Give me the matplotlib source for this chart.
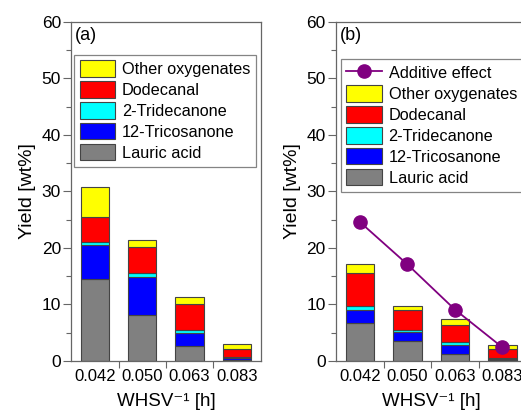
import numpy as np
import matplotlib
matplotlib.use("Agg")
import matplotlib.pyplot as plt

plt.rcParams["font.family"] = ["Liberation Sans", "DejaVu Sans"]

categories = ["0.042", "0.050", "0.063", "0.083"]
components = ["Lauric acid", "12-Tricosanone", "2-Tridecanone", "Dodecanal", "Other oxygenates"]
colors = ["#808080", "#0000ff", "#00ffff", "#ff0000", "#ffff00"]

# panel (a) segment heights, bottom to top
a_lauric = [14.5, 8.2, 2.65, 0.1]
a_tricosanone = [6.0, 6.7, 2.25, 0.5]
a_tridecanone = [0.5, 0.6, 0.6, 0.1]
a_dodecanal = [4.4, 4.7, 4.55, 1.5]
a_other = [5.4, 1.2, 1.35, 0.85]

# panel (b)
b_lauric = [6.75, 3.6, 1.2, 0.2]
b_tricosanone = [2.35, 1.5, 1.7, 0.2]
b_tridecanone = [0.7, 0.4, 0.4, 0.1]
b_dodecanal = [5.7, 3.6, 3.1, 1.6]
b_other = [1.7, 0.7, 0.95, 0.8]
additive = [24.6, 17.1, 9.1, 2.4]

fig = plt.figure(figsize=(5.21, 4.13), dpi=100)
ax_a = fig.add_axes([0.137, 0.126, 0.363, 0.821])
ax_b = fig.add_axes([0.645, 0.126, 0.365, 0.821])

x = np.arange(len(categories))
spine_col = "#666666"


def draw_panel(ax, series, tag):
    bottom = np.zeros(len(categories))
    handles = []
    for vals, name, col in zip(series, components, colors):
        h = ax.bar(x, vals, 0.6, bottom=bottom, color=col, edgecolor="#444444",
                   linewidth=0.8, label=name)
        handles.append(h)
        bottom += np.array(vals)
    ax.set_xlim(-0.5, 3.5)
    ax.set_ylim(0, 60)
    ax.set_yticks(np.arange(0, 61, 10))
    ax.set_yticks(np.arange(5, 60, 10), minor=True)
    ax.set_xticks(x)
    ax.set_xticklabels(categories, fontsize=12)
    ax.set_xticks([0.5, 1.5, 2.5], minor=True)
    ax.tick_params(axis="x", which="major", length=0, pad=6)
    ax.tick_params(axis="x", which="minor", length=5, width=0.8, color=spine_col)
    ax.tick_params(axis="y", which="major", length=6, width=0.8, color=spine_col, labelsize=12.5, pad=1.5)
    ax.tick_params(axis="y", which="minor", length=3.5, width=0.8, color=spine_col)
    for s in ax.spines.values():
        s.set_color(spine_col)
        s.set_linewidth(0.9)
    ax.set_ylabel("Yield [wt%]", fontsize=14, labelpad=4)
    ax.set_xlabel("WHSV\u207b\u00b9 [h]", fontsize=13.5, labelpad=6)
    ax.text(0.02, 0.985, tag, transform=ax.transAxes, fontsize=13, va="top", ha="left")
    return handles


legend_style = dict(loc="upper left", fontsize=11.7, frameon=True, fancybox=False,
                    edgecolor=spine_col, handlelength=2.2, handleheight=1.15,
                    handletextpad=0.4, labelspacing=0.27, borderpad=0.35, borderaxespad=0)

ha = draw_panel(ax_a, [a_lauric, a_tricosanone, a_tridecanone, a_dodecanal, a_other], "(a)")
leg_a = ax_a.legend(handles=ha[::-1], bbox_to_anchor=(0.013, 0.903), **legend_style)
leg_a.get_frame().set_linewidth(0.9)

hb = draw_panel(ax_b, [b_lauric, b_tricosanone, b_tridecanone, b_dodecanal, b_other], "(b)")
ln, = ax_b.plot(x, additive, color="#800080", marker="o", markersize=9.5, linewidth=1.3,
                label="Additive effect", zorder=5)
leg_b = ax_b.legend(handles=[ln] + hb[::-1], bbox_to_anchor=(0.024, 0.891), **legend_style)
leg_b.get_frame().set_linewidth(0.9)

fig.savefig("out.png", dpi=100)
